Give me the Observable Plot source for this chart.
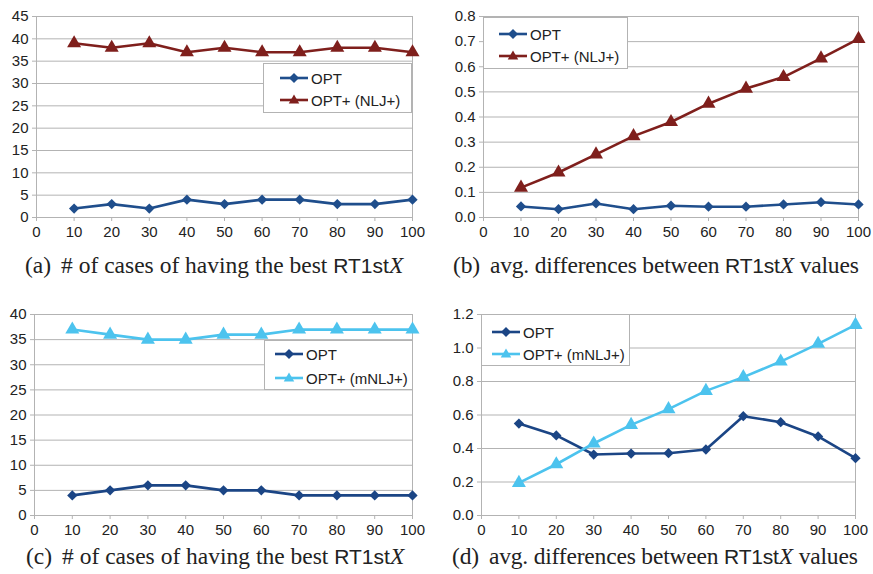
<!DOCTYPE html>
<html>
<head>
<meta charset="utf-8">
<script src="https://cdn.jsdelivr.net/npm/d3@7"></script>
<script src="https://cdn.jsdelivr.net/npm/@observablehq/plot@0.6"></script>
<style>
  html, body { margin: 0; padding: 0; background: #fff; }
  #root { position: relative; width: 873px; height: 574px; overflow: hidden; }
  .panel { position: absolute; }
  .legend { position: absolute; background: #fff; border: 1px solid #b3b3b3; box-sizing: border-box;
            font-family: "Liberation Sans", Arial, sans-serif; font-size: 15px; color: #222; }
  .legend .row { position: absolute; display: flex; align-items: center; white-space: nowrap; }
  .legend svg { display: block; margin-right: 3px; }
  .cap { position: absolute; white-space: nowrap; font-family: "Liberation Serif", "Times New Roman", serif;
         font-size: 23.5px; color: #222; line-height: 1; }
  .cap .sans { font-family: "Liberation Sans", Arial, sans-serif; font-size: 21px; }
  .cap .lab { margin-right: 10px; }
</style>
</head>
<body>
<div id="root"></div>
<script>
const xs = [10, 20, 30, 40, 50, 60, 70, 80, 90, 100];
const xTicks = [0, 10, 20, 30, 40, 50, 60, 70, 80, 90, 100];

// (a) # of cases of having the best RT1stX
const aOPT  = [2, 3, 2, 4, 3, 4, 4, 3, 3, 4];
const aNLJ  = [39, 38, 39, 37, 38, 37, 37, 38, 38, 37];
const aTicks = [0, 5, 10, 15, 20, 25, 30, 35, 40, 45];

// (b) avg. differences between RT1stX values
const bOPT  = [0.044, 0.033, 0.056, 0.033, 0.047, 0.043, 0.043, 0.052, 0.061, 0.052];
const bNLJ  = [0.119, 0.179, 0.251, 0.324, 0.380, 0.453, 0.513, 0.559, 0.633, 0.711];
const bTicks = [0, 0.1, 0.2, 0.3, 0.4, 0.5, 0.6, 0.7, 0.8];

// (c) # of cases of having the best RT1stX
const cOPT  = [4, 5, 6, 6, 5, 5, 4, 4, 4, 4];
const cMNLJ = [37, 36, 35, 35, 36, 36, 37, 37, 37, 37];
const cTicks = [0, 5, 10, 15, 20, 25, 30, 35, 40];

// (d) avg. differences between RT1stX values
const dOPT  = [0.549, 0.478, 0.364, 0.370, 0.372, 0.394, 0.593, 0.557, 0.472, 0.342];
const dMNLJ = [0.195, 0.306, 0.430, 0.541, 0.635, 0.744, 0.826, 0.919, 1.025, 1.138];
const dTicks = [0, 0.2, 0.4, 0.6, 0.8, 1.0, 1.2];

const seriesNames = ["OPT", "OPT+ (NLJ+)", "OPT+ (mNLJ+)"];
const captionsLabels = ["(a)", "(b)", "(c)", "(d)"];

const C_OPT1 = "#1f4e8c";
const C_OPT2 = "#1b4585";
const C_NLJ = "#7f1f1c";
const C_MNLJ = "#4cc3ee";
const GRID = "#b3b3b3";

const root = document.getElementById("root");

function makePanel(cfg) {
  const rows = [];
  cfg.series.forEach(s => s.values.forEach((v, i) => rows.push({x: xs[i], y: v, s: s.name})));
  const marks = [
    Plot.gridY(cfg.yTicks, {stroke: GRID, strokeOpacity: 1}),
    Plot.ruleX([100], {stroke: GRID}),
    Plot.ruleX([0], {stroke: GRID}),
    Plot.axisY(cfg.yTicks, {tickSize: 4, tickPadding: 4, stroke: GRID, fill: "#222", tickFormat: cfg.fmt,
      label: null, fontSize: 15, fontFamily: "Liberation Sans, Arial, sans-serif"}),
    Plot.axisX(xTicks, {tickSize: 4, tickPadding: 5, stroke: GRID, fill: "#222", tickFormat: d => String(d),
      label: null, fontSize: 15, fontFamily: "Liberation Sans, Arial, sans-serif"})
  ];
  cfg.series.forEach(s => {
    const d = rows.filter(r => r.s === s.name);
    marks.push(Plot.line(d, {x: "x", y: "y", stroke: s.color, strokeWidth: 2.6}));
    if (s.symbol === "triangle") {
      marks.push(Plot.dot(d, {x: "x", y: "y", symbol: "triangle", fill: s.color, stroke: null, r: 5.2}));
    } else {
      marks.push(Plot.dot(d, {x: "x", y: "y", symbol: "square", rotate: 45, fill: s.color, stroke: null, r: 4.1}));
    }
  });
  const plot = Plot.plot({
    width: 430, height: cfg.height,
    marginLeft: cfg.ml, marginRight: cfg.mr, marginTop: cfg.mt, marginBottom: cfg.mb,
    x: {domain: [0, 100], axis: null, label: null},
    y: {domain: cfg.yDomain, axis: null, label: null},
    style: {background: "transparent", overflow: "visible"},
    marks
  });
  const div = document.createElement("div");
  div.className = "panel";
  div.style.left = cfg.left + "px";
  div.style.top = cfg.top + "px";
  div.appendChild(plot);
  root.appendChild(div);

  // legend
  const lg = document.createElement("div");
  lg.className = "legend";
  lg.style.left = cfg.leg.x + "px"; lg.style.top = cfg.leg.y + "px";
  lg.style.width = cfg.leg.w + "px"; lg.style.height = cfg.leg.h + "px";
  cfg.series.forEach((s, i) => {
    const row = document.createElement("div");
    row.className = "row";
    row.style.left = cfg.leg.sx + "px";
    row.style.top = (cfg.leg.ry[i] - 10) + "px";
    row.style.height = "20px";
    const sw = d3.create("svg").attr("width", 28).attr("height", 20);
    sw.append("line").attr("x1", 0).attr("x2", 28).attr("y1", 10).attr("y2", 10)
      .attr("stroke", s.color).attr("stroke-width", 2.6);
    if (s.symbol === "triangle") {
      sw.append("path").attr("d", d3.symbol(d3.symbolTriangle, 48)()).attr("transform", "translate(14,10.5)").attr("fill", s.color);
    } else {
      sw.append("path").attr("d", "M14,5L19,10L14,15L9,10Z").attr("fill", s.color);
    }
    row.appendChild(sw.node());
    const t = document.createElement("span");
    t.textContent = s.name;
    row.appendChild(t);
    lg.appendChild(row);
  });
  root.appendChild(lg);

  // caption
  const cap = document.createElement("div");
  cap.className = "cap";
  cap.style.left = cfg.cap.x + "px";
  cap.style.top = cfg.cap.y + "px";
  if (cfg.cap.ls) cap.style.letterSpacing = cfg.cap.ls + "px";
  cap.innerHTML = `<span class="lab">${cfg.cap.label}</span>${cfg.cap.pre}<span class="sans">RT1st</span><i>X</i>${cfg.cap.post}`;
  root.appendChild(cap);
}

const fmtInt = d => String(d);
const fmt1 = d => d.toFixed(1);

makePanel({
  left: 0, top: 0, height: 245, ml: 36, mr: 18, mt: 16, mb: 28,
  yDomain: [0, 45], yTicks: aTicks, fmt: fmtInt,
  series: [
    {name: seriesNames[0], values: aOPT, color: C_OPT1, symbol: "diamond"},
    {name: seriesNames[1], values: aNLJ, color: C_NLJ, symbol: "triangle"}
  ],
  leg: {x: 263, y: 63, w: 149, h: 50, sx: 16, ry: [14, 36]},
  cap: {x: 25, y: 254, label: captionsLabels[0], pre: "# of cases of having the best ", post: ""}
});
makePanel({
  left: 440, top: 0, height: 245, ml: 43, mr: 12, mt: 16, mb: 28,
  yDomain: [0, 0.8], yTicks: bTicks, fmt: fmt1,
  series: [
    {name: seriesNames[0], values: bOPT, color: C_OPT1, symbol: "diamond"},
    {name: seriesNames[1], values: bNLJ, color: C_NLJ, symbol: "triangle"}
  ],
  leg: {x: 483, y: 17, w: 145, h: 52, sx: 15, ry: [16, 38]},
  cap: {x: 453, y: 254, ls: -0.18, label: captionsLabels[1], pre: "avg. differences between ", post: " values"}
});
makePanel({
  left: 0, top: 290, height: 253, ml: 34, mr: 18, mt: 24, mb: 28,
  yDomain: [0, 40], yTicks: cTicks, fmt: fmtInt,
  series: [
    {name: seriesNames[0], values: cOPT, color: C_OPT2, symbol: "diamond"},
    {name: seriesNames[2], values: cMNLJ, color: C_MNLJ, symbol: "triangle"}
  ],
  leg: {x: 264, y: 340, w: 149, h: 50, sx: 10, ry: [13, 37]},
  cap: {x: 26, y: 545, label: captionsLabels[2], pre: "# of cases of having the best ", post: ""}
});
makePanel({
  left: 440, top: 290, height: 253, ml: 41, mr: 15, mt: 24, mb: 28,
  yDomain: [0, 1.2], yTicks: dTicks, fmt: fmt1,
  series: [
    {name: seriesNames[0], values: dOPT, color: C_OPT2, symbol: "diamond"},
    {name: seriesNames[2], values: dMNLJ, color: C_MNLJ, symbol: "triangle"}
  ],
  leg: {x: 481, y: 314, w: 149, h: 52, sx: 10, ry: [17, 39]},
  cap: {x: 452, y: 545, ls: -0.18, label: captionsLabels[3], pre: "avg. differences between ", post: " values"}
});
</script>
</body>
</html>
